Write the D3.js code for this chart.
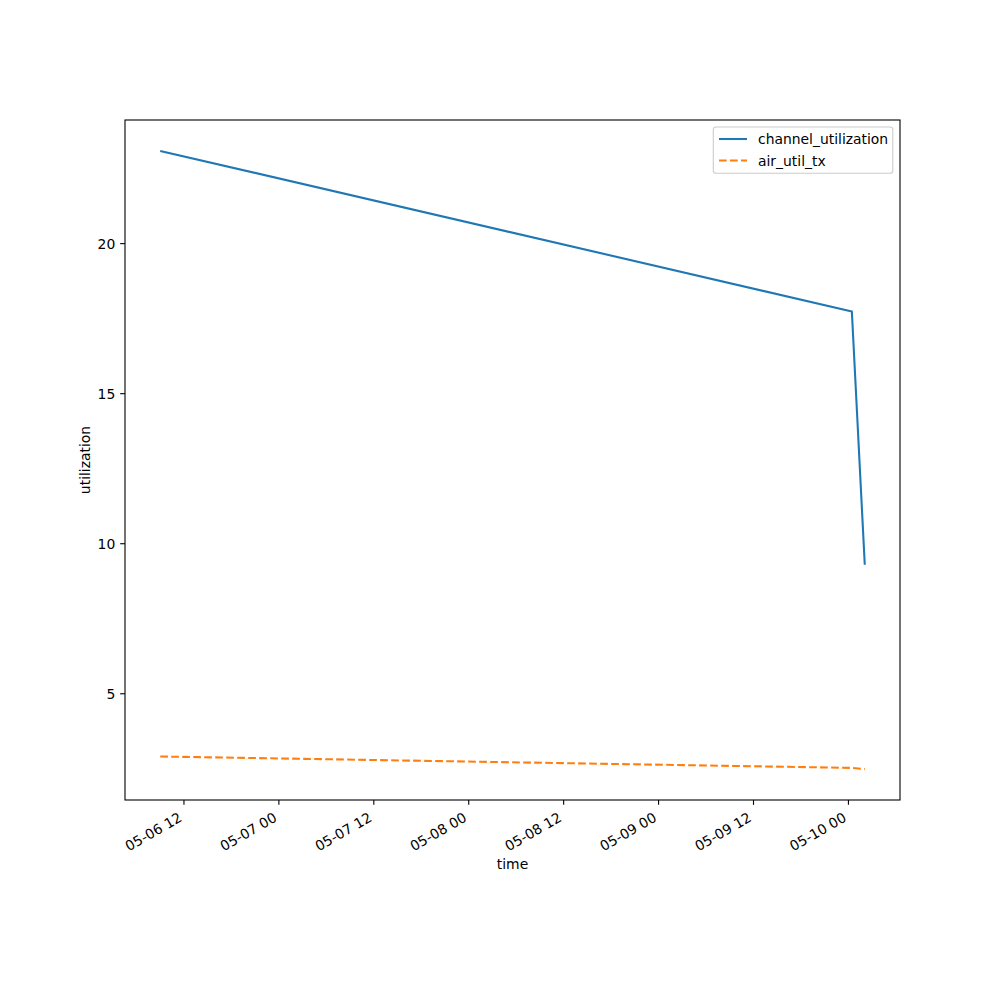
<!DOCTYPE html>
<html>
<head>
<meta charset="utf-8">
<script src="https://cdn.jsdelivr.net/npm/d3@7"></script>
<style>
body { margin: 0; background: #fff; }
svg { font-family: "DejaVu Sans", sans-serif; }
</style>
</head>
<body>
<div id="chart"></div>
<script>
const times = ["2024-05-06T09:00", "2024-05-10T00:26", "2024-05-10T02:04"];
const channelUtilization = [23.09, 17.74, 9.3];
const airUtilTx = [2.91, 2.53, 2.49];
const seriesNames = ["channel_utilization", "air_util_tx"];
const seriesColors = ["#1f77b4", "#ff7f0e"];
const yTicks = [5, 10, 15, 20];

(function () {
const W = 1000, H = 1000;
const mLeft = 125, mRight = 900, mTop = 120, mBottom = 800;
const parse = d3.utcParse("%Y-%m-%dT%H:%M");
const t = times.map(parse);

const svg = d3.select("#chart").append("svg").attr("width", W).attr("height", H);

const tExt = d3.extent(t);
const tPad = (tExt[1] - tExt[0]) * 0.05;
const x = d3.scaleUtc().domain([new Date(+tExt[0] - tPad), new Date(+tExt[1] + tPad)]).range([mLeft, mRight]);
const allY = channelUtilization.concat(airUtilTx);
const yMin = d3.min(allY), yMax = d3.max(allY);
const yPad = (yMax - yMin) * 0.05;
const y = d3.scaleLinear().domain([yMin - yPad, yMax + yPad]).range([mBottom, mTop]);

const fs = 13.9;
const tickLen = 4.86;

const xTicks = d3.utcHour.every(12).range(x.domain()[0], x.domain()[1]);
const fmt = d3.utcFormat("%m-%d %H");
const xg = svg.append("g");
xTicks.forEach(d => {
  const px = x(d);
  xg.append("line").attr("x1", px).attr("x2", px).attr("y1", mBottom).attr("y2", mBottom + tickLen)
    .attr("stroke", "#000").attr("stroke-width", 1.1);
  xg.append("text").attr("transform", `translate(${px - 3.5},${mBottom + 16}) rotate(-30)`)
    .attr("text-anchor", "end").attr("dominant-baseline", "central")
    .attr("font-size", fs).attr("fill", "#000").text(fmt(d));
});

const yg = svg.append("g");
yTicks.forEach(v => {
  const py = y(v);
  yg.append("line").attr("x1", mLeft - tickLen).attr("x2", mLeft).attr("y1", py).attr("y2", py)
    .attr("stroke", "#000").attr("stroke-width", 1.1);
  yg.append("text").attr("x", mLeft - tickLen - 4.86).attr("y", py)
    .attr("text-anchor", "end").attr("dominant-baseline", "central")
    .attr("font-size", fs).attr("fill", "#000").text(v);
});

const line = d3.line().x((d, i) => x(t[i])).y(d => y(d));
svg.append("path").datum(channelUtilization).attr("d", line)
  .attr("fill", "none").attr("stroke", seriesColors[0]).attr("stroke-width", 2.08)
  .attr("stroke-linejoin", "round").attr("stroke-linecap", "butt");
svg.append("path").datum(airUtilTx).attr("d", line)
  .attr("fill", "none").attr("stroke", seriesColors[1]).attr("stroke-width", 2.08)
  .attr("stroke-dasharray", "7.7,3.3");

svg.append("rect").attr("x", mLeft).attr("y", mTop).attr("width", mRight - mLeft).attr("height", mBottom - mTop)
  .attr("fill", "none").attr("stroke", "#000").attr("stroke-width", 1.1);

svg.append("text").attr("x", (mLeft + mRight) / 2).attr("y", 864).attr("text-anchor", "middle")
  .attr("dominant-baseline", "central").attr("font-size", fs).text("time");
svg.append("text").attr("transform", `translate(85,${(mTop + mBottom) / 2}) rotate(-90)`)
  .attr("text-anchor", "middle").attr("dominant-baseline", "central").attr("font-size", fs).text("utilization");

const lg = svg.append("g");
lg.append("rect").attr("x", 713.3).attr("y", 127).attr("width", 179.5).attr("height", 46.3)
  .attr("rx", 2.8).attr("fill", "#fff").attr("fill-opacity", 0.8)
  .attr("stroke", "#cccccc").attr("stroke-width", 1.1);
const rows = [139, 160.5];
seriesNames.forEach((n, i) => {
  const l = lg.append("line").attr("x1", 719).attr("x2", 747).attr("y1", rows[i]).attr("y2", rows[i])
    .attr("stroke", seriesColors[i]).attr("stroke-width", 2.08);
  if (i === 1) l.attr("stroke-dasharray", "7.7,3.3");
  lg.append("text").attr("x", 758).attr("y", rows[i]).attr("dominant-baseline", "central")
    .attr("font-size", fs).attr("fill", "#000").text(n);
});
})();
</script>
</body>
</html>
